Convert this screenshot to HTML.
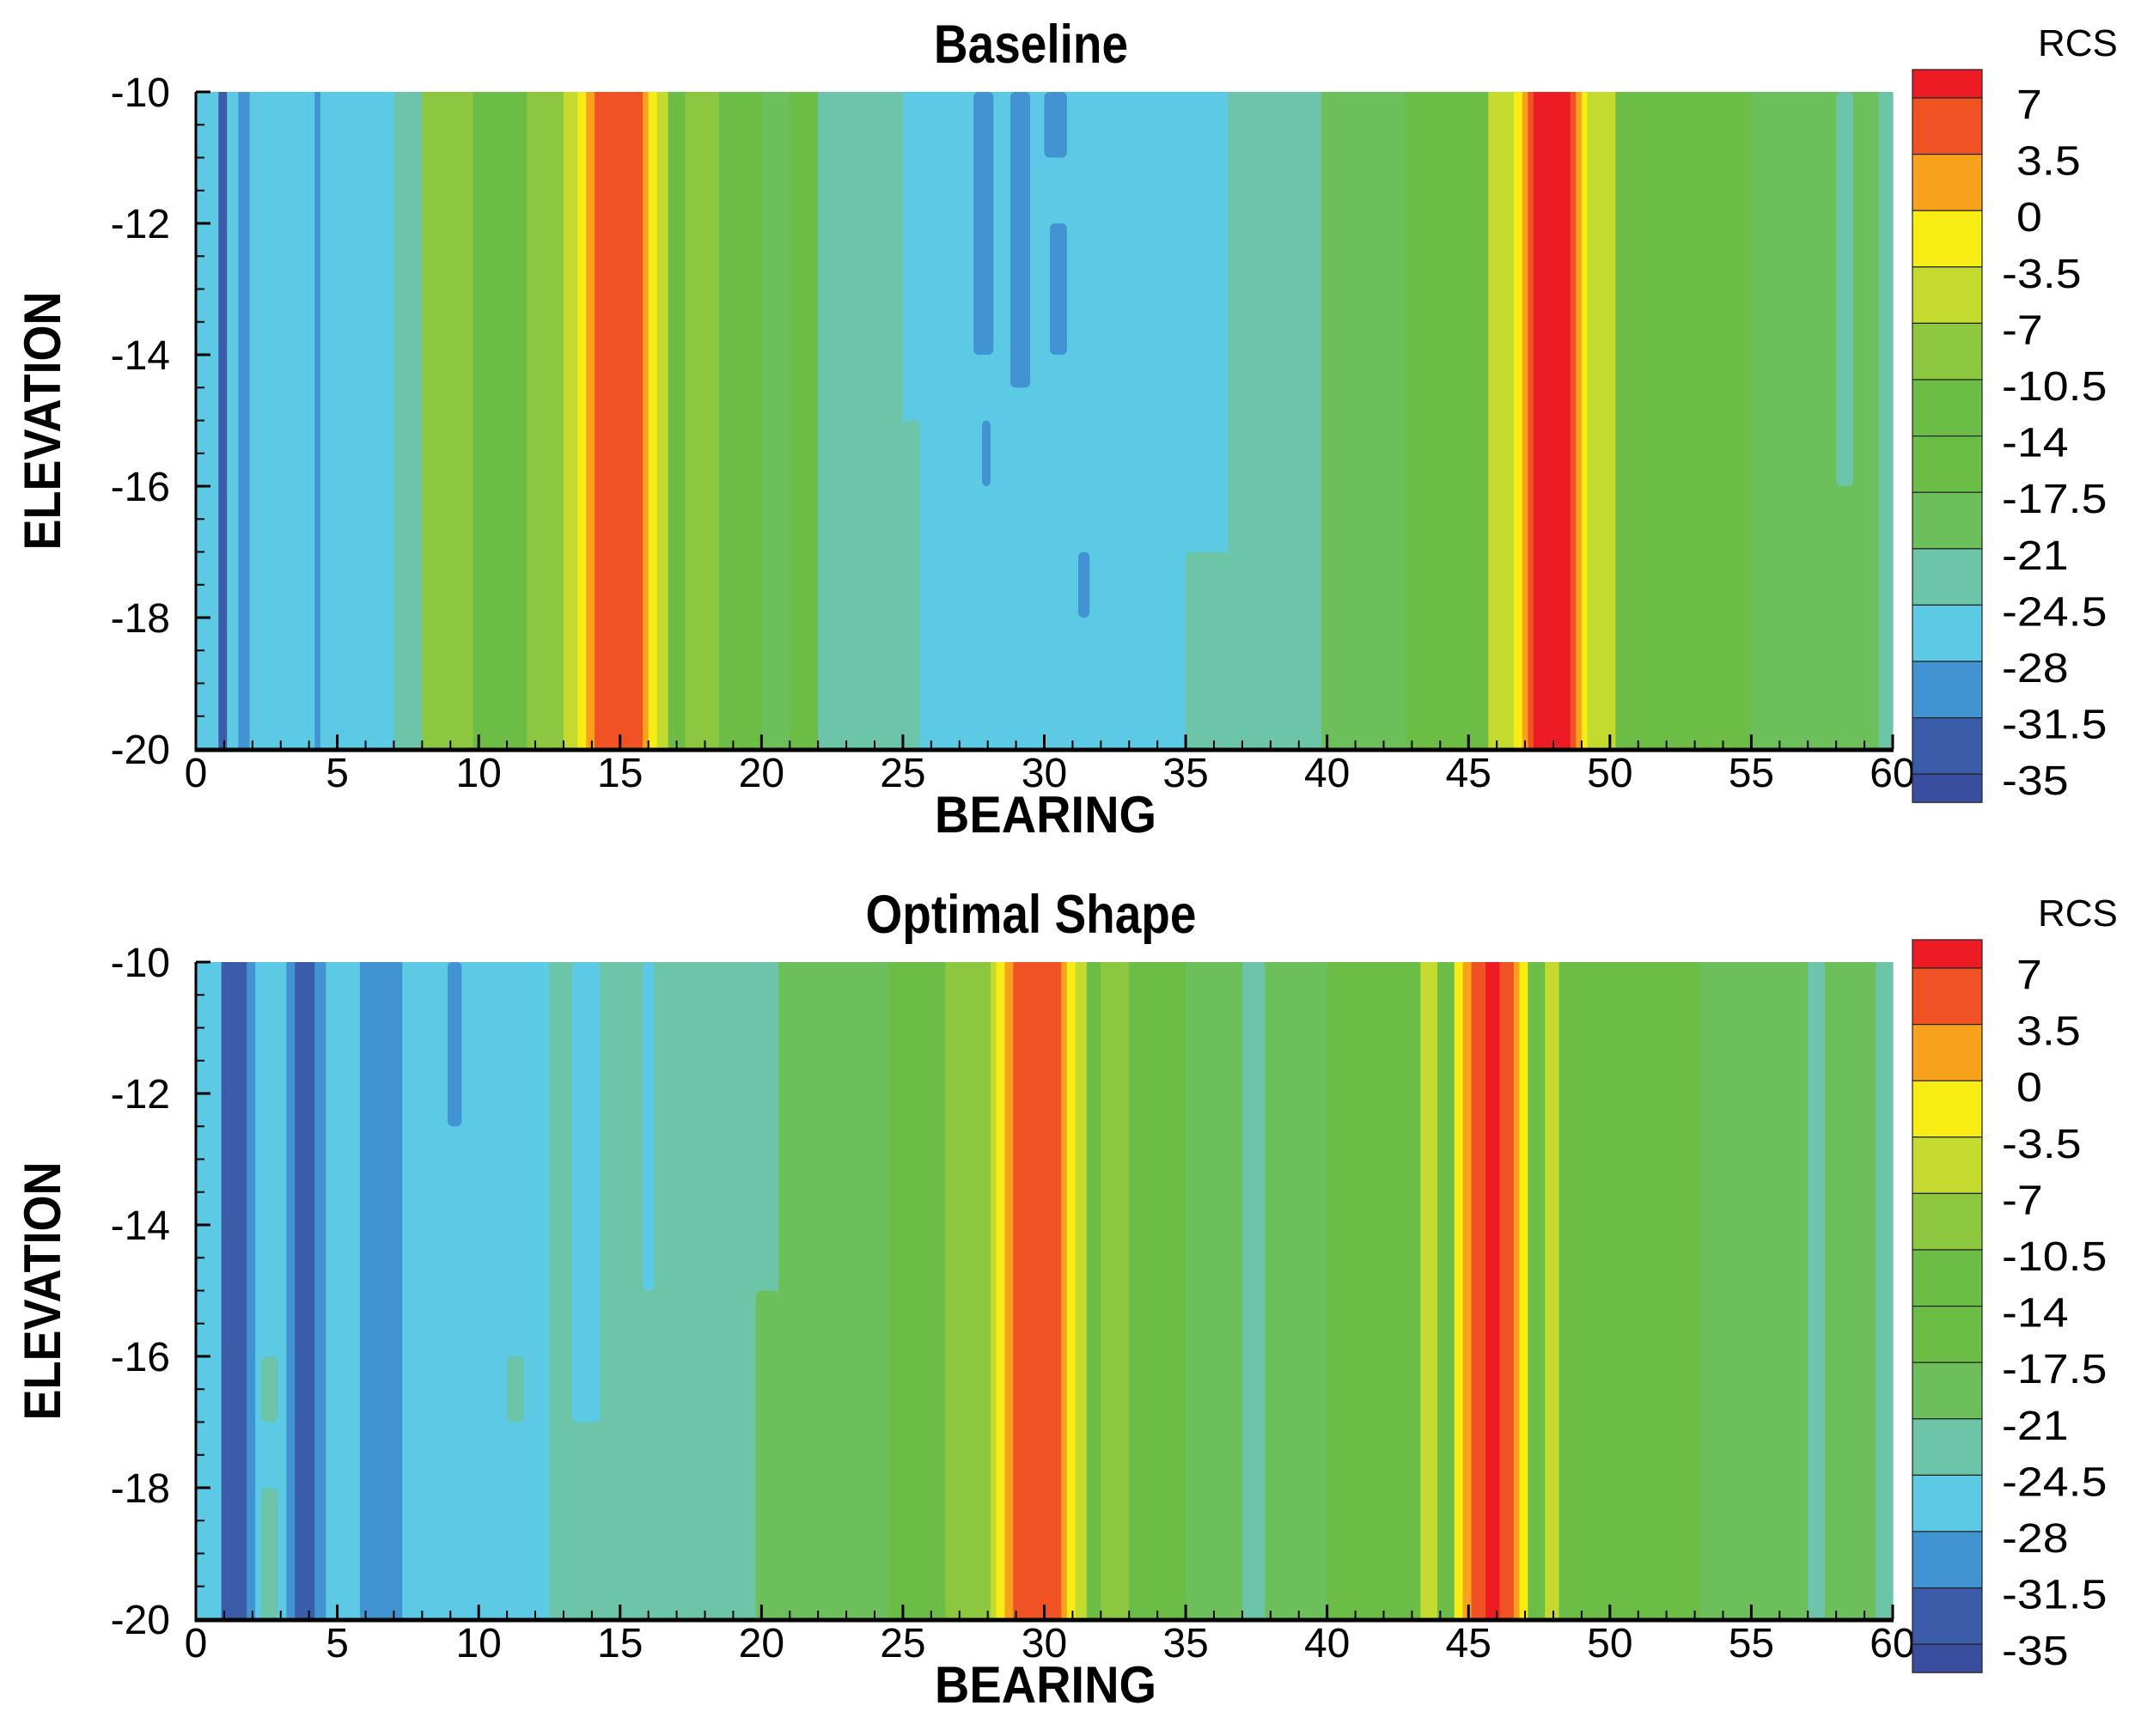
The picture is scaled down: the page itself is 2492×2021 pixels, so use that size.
<!DOCTYPE html>
<html><head><meta charset="utf-8"><style>
html,body{margin:0;padding:0;background:#fff}
svg{display:block}
text{font-family:"Liberation Sans",Arial,sans-serif;fill:#000}
</style></head><body>
<svg id="chart" xmlns="http://www.w3.org/2000/svg" width="2492" height="2021" viewBox="0 0 2492 2021"></svg>
<script>
// ---- data ----
const levelBounds = [7,3.5,0,-3.5,-7,-10.5,-14,-17.5,-21,-24.5,-28,-31.5,-35];
const levelColors = ['#ed1c24','#f05224','#f7a11c','#f7ec13','#c4da2f','#8dc63f','#6bbd45','#6bbd45','#6dbf5b','#6cc5a9','#5ccae4','#4194d1','#3b5ca9','#3a4ea0'];
const xTicks = [0,5,10,15,20,25,30,35,40,45,50,55,60];
const yTicks = [-10,-12,-14,-16,-18,-20];
const baseStarts = [0,0.8,1.1,1.5,1.9,4.2,4.4,7.0,8.0,9.8,11.7,13.0,13.5,13.8,14.1,15.8,16.0,16.3,16.7,17.3,18.5,19.0,20.0,21.0,22.0,25.0,36.5,39.8,42.8,45.7,46.6,46.9,47.1,47.3,48.6,48.8,49.0,49.2,50.2,55.0,59.5];
const baseValues = [-26,-33,-26,-30,-26,-30,-26,-23,-9,-12,-9,-5,-2,2,5,2,-2,-5,-12,-9,-16,-12,-19,-12,-23,-26,-23,-19,-12,-5,-2,2,5,9,5,2,-2,-5,-12,-19,-23];
// patches: [bearing0, bearing1, elevTop, elevBottom, rcs]
const basePatches = [[35.0,36.5,-17,-20,-23],[25.0,25.6,-15,-20,-23],[27.5,28.2,-10,-14,-30],[28.8,29.5,-10,-14.5,-30],[30.0,30.8,-10,-11,-30],[30.2,30.8,-12,-14,-30],[27.8,28.1,-15,-16,-30],[31.2,31.6,-17,-18,-30],[58.0,58.6,-10,-16,-23]];
const optStarts = [0,0.9,1.8,2.1,3.2,3.5,4.2,4.6,5.8,7.3,12.5,20.6,24.5,26.5,28.1,28.3,28.6,28.9,30.6,30.8,31.1,31.5,32.0,33.0,35.0,37.0,37.8,40.0,43.3,43.9,44.5,44.8,45.1,45.6,46.1,46.6,46.8,47.1,47.7,48.2,53.2,57.0,57.6,59.4];
const optValues = [-26,-33,-30,-26,-30,-33,-30,-26,-30,-26,-23,-19,-12,-9,-5,-2,2,5,2,-2,-5,-12,-9,-12,-19,-23,-19,-12,-5,-12,-2,2,5,9,5,2,-2,-12,-5,-12,-19,-23,-19,-23];
const optPatches = [[8.9,9.4,-10,-12.5,-30],[2.3,2.9,-16,-17,-23],[2.3,2.9,-18,-20,-23],[13.3,14.3,-10,-17,-26],[15.8,16.2,-10,-15,-26],[19.8,20.6,-15,-20,-19],[11.0,11.6,-16,-17,-23]];
const panelTitles = ['Baseline','Optimal Shape'];

// ---- layout ----
const NS='http://www.w3.org/2000/svg';
const svg=document.getElementById('chart');
const PX0=228, PX1=2203, PH=765, PTOP=[107,1120];
const CBX=2226, CBW=81;
function mk(tag,attrs,parent){const e=document.createElementNS(NS,tag);for(const k in attrs)e.setAttribute(k,attrs[k]);(parent||svg).appendChild(e);return e;}
function colorOf(v){for(let i=0;i<levelBounds.length;i++){if(v>=levelBounds[i])return levelColors[i];}return levelColors[levelColors.length-1];}

function drawPanel(p,starts,values,patches,title){
  const top=PTOP[p];
  const xs=b=>PX0+(b-0)/(60-0)*(PX1-PX0);
  const ys=e=>top+(-10-e)/10*PH;
  const g=mk('g',{});
  
  
  const field=mk('g',{},g);
  
  
  for(let i=0;i<starts.length;i++){
    const b0=starts[i], b1=i+1<starts.length?starts[i+1]:60;
    const r=mk('rect',{x:xs(b0),y:ys(-10),width:xs(b1)-xs(b0)+0.6,height:ys(-20)-ys(-10),fill:colorOf(values[i])},field);
    
    
  }
  patches.forEach(pt=>{
    const r=mk('rect',{x:xs(pt[0]),y:ys(pt[2]),width:xs(pt[1])-xs(pt[0]),height:ys(pt[3])-ys(pt[2]),rx:6,fill:colorOf(pt[4])},field);
    
    
  });
  // ticks
  for(let b=0;b<=60;b+=1){const major=b%5===0;mk('line',{x1:xs(b),x2:xs(b),y1:ys(-20),y2:ys(-20)-(major?17:10),stroke:'#000','stroke-width':major?3:2},g);}
  for(let e=-10;e>=-20;e-=0.5){const major=Math.abs(e%2)<1e-9;mk('line',{x1:xs(0),x2:xs(0)+(major?17:10),y1:ys(e),y2:ys(e),stroke:'#000','stroke-width':major?3:2},g);}
  mk('line',{x1:xs(0)-1,x2:xs(60)+1,y1:ys(-20)+1,y2:ys(-20)+1,stroke:'#000','stroke-width':5},g);
  mk('line',{x1:xs(0),x2:xs(0),y1:ys(-10),y2:ys(-20)+3,stroke:'#000','stroke-width':3},g);
  xTicks.forEach(t=>{const tx=mk('text',{x:xs(t),y:ys(-20)+44,'text-anchor':'middle','font-size':48},g);tx.textContent=t;
    });
  yTicks.forEach(t=>{const tx=mk('text',{x:198,y:ys(t)+17,'text-anchor':'end','font-size':48},g);tx.textContent=t;
    });
  const tt=mk('text',{transform:`translate(1200,${top-34}) scale(1,1.15)`,'text-anchor':'middle','font-size':55,'font-weight':'bold'},g);
  tt.textContent=title;
  const xt=mk('text',{transform:`translate(1217,${top+862}) scale(1,1.08)`,'text-anchor':'middle','font-size':56,'font-weight':'bold'},g);
  xt.textContent='BEARING';
  const yt=mk('text',{transform:`translate(70,${top+383}) rotate(-90) scale(1,1.12)`,'text-anchor':'middle','font-size':54,'font-weight':'bold'},g);
  yt.textContent='ELEVATION';
  // colorbar
  const cb=mk('g',{},g);
  
  
  const off=top-107;
  const cTop=81+off, step=65.6, b0y=114+off;
  const by=i=>b0y+i*step;
  const edges=[cTop].concat(levelBounds.map((v,i)=>by(i))).concat([by(levelBounds.length-1)+33]);
  for(let i=0;i<levelColors.length;i++){
    const r=mk('rect',{x:CBX,y:edges[i],width:CBW,height:edges[i+1]-edges[i],fill:levelColors[i],stroke:'#222','stroke-width':1.2},cb);
    
    
  }
  levelBounds.forEach((v,i)=>{
    const lx=v<0?2330:2347;
    const tx=mk('text',{x:lx,y:by(i)+24,'font-size':48,transform:`translate(${lx*-0.12},0) scale(1.12,1)`},cb);
    tx.textContent=v;
  });
  const rc=mk('text',{x:2372,y:cTop-16,'font-size':44},cb);
  rc.textContent='RCS';
}
drawPanel(0,baseStarts,baseValues,basePatches,panelTitles[0]);
drawPanel(1,optStarts,optValues,optPatches,panelTitles[1]);
</script>
</body></html>
